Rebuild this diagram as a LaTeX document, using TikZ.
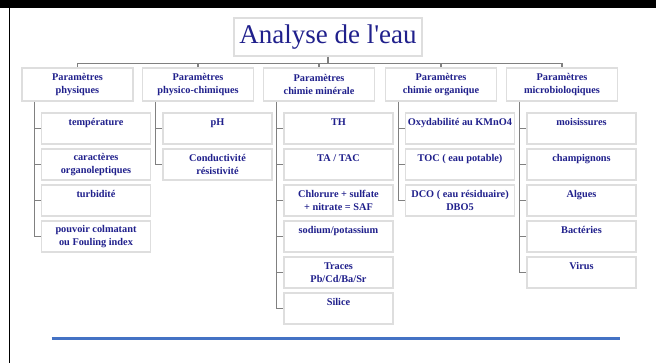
\documentclass[tikz,border=0pt]{standalone}
\usepackage{fontspec}
\setmainfont{Liberation Serif}
\usetikzlibrary{calc}
\definecolor{navytxt}{RGB}{32,32,140}
\definecolor{boxline}{RGB}{222,222,222}
\definecolor{conn}{RGB}{128,128,128}
\definecolor{bluerule}{RGB}{68,114,196}
\begin{document}
\begin{tikzpicture}[x=1pt,y=-1pt,
  box/.style={draw=boxline, line width=1.8pt, fill=white, text=navytxt,
    font=\fontsize{10.3}{12.5}\selectfont\bfseries, align=center, inner sep=0pt},
  titlebox/.style={box, font=\fontsize{27}{30}\selectfont, minimum width=188pt, minimum height=38pt},
  headbox/.style={box, minimum width=111pt, minimum height=33pt,
    execute at begin node={\rule{0pt}{9pt}}},
  itembox/.style={box, minimum width=109pt, minimum height=31pt,
    execute at begin node={\rule{0pt}{10pt}}},
  link/.style={draw=conn, line width=1.1pt}
]
\useasboundingbox (0,0) rectangle (656,363);
% page frame
\fill[black] (0,0) rectangle (656,8);
\draw[black, line width=1.4pt] (9.5,8) -- (9.5,363);

% title
\node[titlebox] (title) at (328,37) {Analyse de l\textquotesingle eau};

% level 1
\node[headbox] (p1) at (77.5,84.5) {Paramètres\\physiques};
\node[headbox] (p2) at (198,84.5) {Paramètres\\physico-chimiques};
\node[headbox] (p3) at (319,84.5) {Paramètres\\chimie minérale};
\node[headbox] (p4) at (441,84.5) {Paramètres\\chimie organique};
\node[headbox] (p5) at (562,84.5) {Paramètres\\microbioloqiques};

% column 1
\node[itembox] (c1-1) at (96,128.5) {température\\~};
\node[itembox] (c1-2) at (96,164.5) {caractères\\organoleptiques};
\node[itembox] (c1-3) at (96,200.5) {turbidité\\~};
\node[itembox] (c1-4) at (96,236.5) {pouvoir colmatant\\ou Fouling index};

% column 2
\node[itembox] (c2-1) at (217.5,128.5) {pH\\~};
\node[itembox] (c2-2) at (217.5,164.5) {Conductivité\\résistivité};

% column 3
\node[itembox] (c3-1) at (338.5,128.5) {TH\\~};
\node[itembox] (c3-2) at (338.5,164.5) {TA / TAC\\~};
\node[itembox] (c3-3) at (338.5,200.5) {Chlorure + sulfate\\+ nitrate = SAF};
\node[itembox] (c3-4) at (338.5,236.5) {sodium/potassium\\~};
\node[itembox] (c3-5) at (338.5,272.5) {Traces\\Pb/Cd/Ba/Sr};
\node[itembox] (c3-6) at (338.5,308.5) {Silice\\~};

% column 4
\node[itembox] (c4-1) at (460,128.5) {Oxydabilité au KMnO4\\~};
\node[itembox] (c4-2) at (460,164.5) {TOC ( eau potable)\\~};
\node[itembox] (c4-3) at (460,200.5) {DCO ( eau résiduaire)\\DBO5};

% column 5
\node[itembox] (c5-1) at (581.5,128.5) {moisissures\\~};
\node[itembox] (c5-2) at (581.5,164.5) {champignons\\~};
\node[itembox] (c5-3) at (581.5,200.5) {Algues\\~};
\node[itembox] (c5-4) at (581.5,236.5) {Bactéries\\~};
\node[itembox] (c5-5) at (581.5,272.5) {Virus\\~};

% title to level 1
\coordinate (bus) at ($(title.south)+(0,6.7)$);
\draw[link] (title.south) -- (bus);
\draw[link] (p1.north) |- (bus) -| (p5.north);
\foreach \i in {2,3,4} \draw[link] (p\i.north) -- (p\i.north |- bus);

% level 1 to items
\foreach \c/\n in {1/4,2/2,3/6,4/3,5/5} {
  \coordinate (s\c) at ([xshift=13.5pt]p\c.south west);
  \draw[link] (s\c) |- (c\c-\n.west);
  \foreach \r in {1,...,\n} \draw[link] (s\c |- c\c-\r.west) -- (c\c-\r.west);
}

% bottom rule
\draw[bluerule, line width=3pt] (51.5,339) -- (620,339);
\end{tikzpicture}
\end{document}
